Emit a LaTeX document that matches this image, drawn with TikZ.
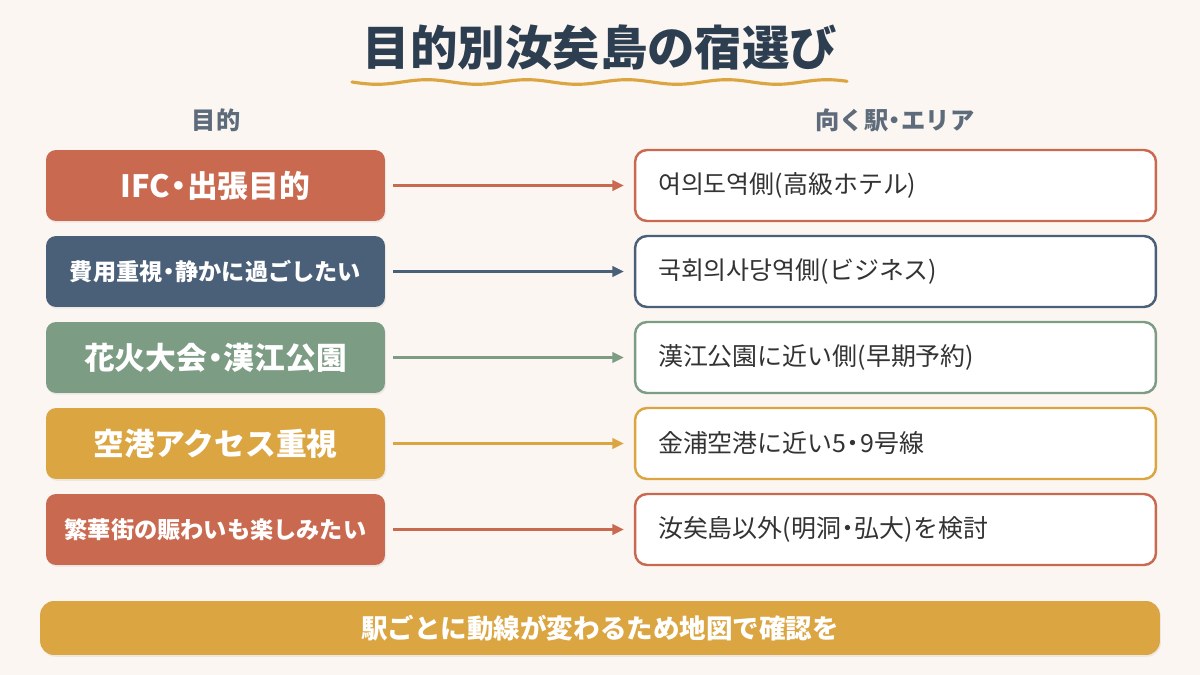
\documentclass[tikz,border=0pt]{standalone}
\usepackage{fontspec}
\setmainfont{Noto Sans CJK JP}
\usetikzlibrary{positioning, arrows.meta, shadows}

\definecolor{bgcream}{HTML}{FBF6F1}
\definecolor{terracotta}{HTML}{C96A50}
\definecolor{slateblue}{HTML}{4A5F78}
\definecolor{sage}{HTML}{7C9C84}
\definecolor{mustard}{HTML}{DBA542}
\definecolor{titleink}{HTML}{2C3E50}
\definecolor{headgray}{HTML}{5D6B7A}
\definecolor{bodyink}{HTML}{333333}

% narrow middle dot
\newcommand{\midot}{\makebox[0.55em][c]{・}}

\begin{document}
\begin{tikzpicture}[
    x=0.02cm, y=-0.02cm,
    purpose/.style={
        rounded corners=0.2cm,
        minimum width=6.78cm,
        minimum height=1.42cm,
        align=center,
        text=white,
        font=\bfseries\fontsize{17.5}{20}\selectfont,
        drop shadow={opacity=0.12, shadow xshift=0.6pt, shadow yshift=-1pt}
    },
    smalltext/.style={
        font=\bfseries\fontsize{13.2}{15}\selectfont
    },
    area/.style={
        draw,
        fill=white,
        line width=1.4pt,
        rounded corners=0.24cm,
        text width=9.5cm,
        inner xsep=0.46cm,
        minimum height=1.42cm,
        align=left,
        text=bodyink,
        font=\fontsize{14.2}{17}\selectfont
    },
    header/.style={
        text=headgray,
        font=\bfseries\fontsize{13.8}{16}\selectfont
    },
    arrow/.style={
        -{Triangle[length=6.5pt, width=6pt]},
        line width=1.3pt,
        shorten <=0.16cm,
        shorten >=0.2cm
    }
]

% Background
\fill[bgcream] (0,0) rectangle (1200,675);
\useasboundingbox (0,0) rectangle (1200,675);

% Title with wavy underline
\node (title) at (600,48) [text=titleink, font=\bfseries\fontsize{27}{32}\selectfont] {目的別汝矣島の宿選び};
\draw[mustard, line width=1.8pt, line cap=round] plot[domain=352:847, samples=150] (\x, {82+2.3*sin((\x-352)*3.6)});

% Column headers
\node (hleft)  at (216,120) [header] {目的};
\node (hright) at (895,120) [header] {向く駅\midot エリア};

% Left column (purposes)
\node (p1) at (215.5,185.5) [purpose, fill=terracotta] {IFC\midot 出張目的};
\node (p2) at (215.5,271.5) [purpose, smalltext, fill=slateblue] {費用重視\midot 静かに過ごしたい};
\node (p3) at (215.5,357.5) [purpose, fill=sage] {花火大会\midot 漢江公園};
\node (p4) at (215.5,443.5) [purpose, fill=mustard] {空港アクセス重視};
\node (p5) at (215.5,529.5) [purpose, smalltext, fill=terracotta] {繁華街の賑わいも楽しみたい};

% Right column (areas)
\node (a1) at (895.5,185.5) [area, draw=terracotta] {여의도역側(高級ホテル)};
\node (a2) at (895.5,271.5) [area, draw=slateblue] {국회의사당역側(ビジネス)};
\node (a3) at (895.5,357.5) [area, draw=sage] {漢江公園に近い側(早期予約)};
\node (a4) at (895.5,443.5) [area, draw=mustard] {金浦空港に近い5\midot 9号線};
\node (a5) at (895.5,529.5) [area, draw=terracotta] {汝矣島以外(明洞\midot 弘大)を検討};

% Arrows: purpose to area
\draw [arrow, terracotta] (p1.east) -- (a1.west);
\draw [arrow, slateblue] (p2.east) -- (a2.west);
\draw [arrow, sage] (p3.east) -- (a3.west);
\draw [arrow, mustard] (p4.east) -- (a4.west);
\draw [arrow, terracotta] (p5.east) -- (a5.west);

% Bottom note
\node (note) at (600,628) [rounded corners=0.28cm, fill=mustard, minimum width=22.4cm, minimum height=1.08cm, text=white, font=\bfseries\fontsize{15.1}{18}\selectfont, drop shadow={opacity=0.12, shadow xshift=0.6pt, shadow yshift=-1pt}] {駅ごとに動線が変わるため地図で確認を};

\end{tikzpicture}
\end{document}
